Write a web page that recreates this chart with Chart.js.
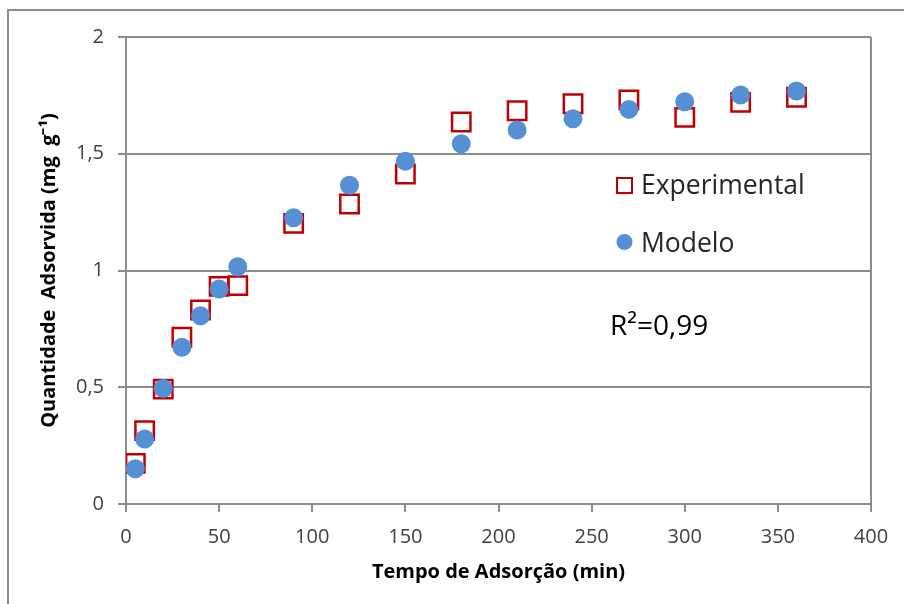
<!DOCTYPE html>
<html>
<head>
<meta charset="utf-8">
<script src="https://cdn.jsdelivr.net/npm/chart.js@4.4.0/dist/chart.umd.min.js"></script>
<style>
  html, body { margin: 0; padding: 0; background: #fff; }
  #wrap { width: 904px; height: 604px; }
</style>
</head>
<body>
<div id="wrap"><canvas id="adsChart" width="904" height="604"></canvas></div>
<script>
// tempo (min)
var tempos = [5, 10, 20, 30, 40, 50, 60, 90, 120, 150, 180, 210, 240, 270, 300, 330, 360];
// quantidade adsorvida (mg/g)
var experimental = [0.174, 0.314, 0.492, 0.714, 0.831, 0.932, 0.935, 1.202, 1.285, 1.413, 1.636, 1.684, 1.714, 1.730, 1.656, 1.720, 1.742];
var modelo = [0.151, 0.278, 0.495, 0.671, 0.806, 0.921, 1.016, 1.226, 1.365, 1.468, 1.543, 1.602, 1.650, 1.690, 1.723, 1.752, 1.769];

var nomesSeries = ['Experimental', 'Modelo'];
var textoR2 = 'R\u00b2=0,99';
var tituloX = 'Tempo de Adsor\u00e7\u00e3o (min)';
var tituloY = 'Quantidade  Adsorvida (mg  g\u207b\u00b9)';

var corExp = '#C00000';
var corMod = '#5590D5';
var corGrade = '#8c8c8c';
var fonte = '"Open Sans", "Liberation Sans", sans-serif';

function pares(xs, ys) {
    var out = [];
    for (var i = 0; i < xs.length; i++) {
        out.push({x: xs[i], y: ys[i]});
    }
    return out;
}

// moldura externa, borda direita da area do grafico, legenda e R2
var extras = {
    id: 'extras',
    beforeDraw: function(chart) {
        var ctx = chart.ctx;
        ctx.save();
        ctx.fillStyle = '#fff';
        ctx.fillRect(0, 0, chart.width, chart.height);
        ctx.strokeStyle = corGrade;
        ctx.lineWidth = 2;
        ctx.beginPath();
        ctx.moveTo(8, chart.height);
        ctx.lineTo(8, 10);
        ctx.lineTo(chart.width, 10);
        ctx.stroke();
        ctx.restore();
    },
    beforeDatasetsDraw: function(chart) {
        var ctx = chart.ctx;
        var a = chart.chartArea;
        ctx.save();
        ctx.strokeStyle = corGrade;
        ctx.lineWidth = 2;
        ctx.beginPath();
        ctx.moveTo(a.right, a.top);
        ctx.lineTo(a.right, a.bottom);
        ctx.stroke();
        ctx.restore();
    },
    afterDraw: function(chart) {
        var ctx = chart.ctx;
        ctx.save();
        // legenda
        ctx.strokeStyle = corExp;
        ctx.lineWidth = 2;
        ctx.strokeRect(617, 178, 15, 15);
        ctx.fillStyle = corMod;
        ctx.beginPath();
        ctx.arc(624.5, 242, 8, 0, Math.PI * 2);
        ctx.fill();
        ctx.fillStyle = '#262626';
        ctx.font = '26.5px ' + fonte;
        ctx.textBaseline = 'alphabetic';
        ctx.fillText(nomesSeries[0], 641, 194);
        ctx.fillText(nomesSeries[1], 641, 252);
        // coeficiente
        ctx.fillStyle = '#000';
        ctx.font = '28px ' + fonte;
        ctx.fillText(textoR2, 610, 335);
        ctx.restore();
    }
};

var ctx = document.getElementById('adsChart').getContext('2d');
new Chart(ctx, {
    type: 'scatter',
    data: {
        datasets: [
            {
                label: nomesSeries[0],
                data: pares(tempos, experimental),
                pointStyle: 'rect',
                pointRadius: 13,
                pointHoverRadius: 13,
                borderColor: corExp,
                borderWidth: 2.5,
                backgroundColor: 'rgba(255,255,255,0)',
                order: 2
            },
            {
                label: nomesSeries[1],
                data: pares(tempos, modelo),
                pointStyle: 'circle',
                pointRadius: 9.5,
                pointHoverRadius: 9.5,
                borderWidth: 0,
                backgroundColor: corMod,
                order: 1
            }
        ]
    },
    options: {
        responsive: false,
        animation: false,
        devicePixelRatio: 1,
        layout: {
            padding: {left: 0, top: 37, right: 33, bottom: 0}
        },
        plugins: {
            legend: {display: false},
            tooltip: {enabled: false}
        },
        scales: {
            x: {
                type: 'linear',
                min: 0,
                max: 400,
                afterFit: function(scale) { scale.height = 100; },
                ticks: {
                    stepSize: 50,
                    color: '#404040',
                    padding: 13,
                    font: {family: fonte, size: 20}
                },
                grid: {
                    drawOnChartArea: false,
                    drawTicks: true,
                    tickLength: 8,
                    color: corGrade,
                    lineWidth: 2
                },
                border: {color: corGrade, width: 2},
                title: {
                    display: true,
                    text: tituloX,
                    color: '#000',
                    padding: {top: 0, bottom: 20},
                    font: {family: fonte, size: 20, weight: 'bold'}
                }
            },
            y: {
                type: 'linear',
                min: 0,
                max: 2,
                afterFit: function(scale) { scale.width = 126; },
                ticks: {
                    stepSize: 0.5,
                    color: '#404040',
                    padding: 14,
                    font: {family: fonte, size: 20},
                    callback: function(v) { return String(v).replace('.', ','); }
                },
                grid: {
                    drawOnChartArea: true,
                    drawTicks: true,
                    tickLength: 8,
                    color: corGrade,
                    lineWidth: 2
                },
                border: {color: corGrade, width: 2},
                title: {
                    display: true,
                    text: tituloY,
                    color: '#000',
                    padding: {top: 37, bottom: 0},
                    font: {family: fonte, size: 20, weight: 'bold'}
                }
            }
        }
    },
    plugins: [extras]
});
</script>
</body>
</html>
